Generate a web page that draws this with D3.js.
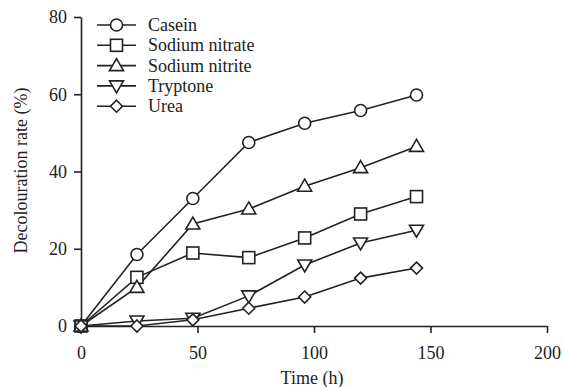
<!DOCTYPE html>
<html>
<head>
<meta charset="utf-8">
<script src="https://cdn.jsdelivr.net/npm/d3@7"></script>
<style>
  body { margin: 0; background: #fff; }
  text { font-family: "Liberation Serif", "Times New Roman", serif; fill: #222; }
</style>
</head>
<body>
<div id="chart"></div>
<script>
// data
var times = [0, 24, 48, 72, 96, 120, 144];
var seriesNames = ["Casein", "Sodium nitrate", "Sodium nitrite", "Tryptone", "Urea"];
var casein = [0, 18.5, 33, 47.5, 52.5, 55.8, 59.8];
var sodiumNitrate = [0, 12.6, 18.9, 17.7, 22.8, 29, 33.5];
var sodiumNitrite = [0, 10, 26.4, 30.3, 36.2, 41, 46.5];
var tryptone = [0, 1.3, 2, 7.8, 15.8, 21.5, 24.8];
var urea = [0, 0, 1.6, 4.6, 7.5, 12.4, 15];
var xTicks = [0, 50, 100, 150, 200];
var yTicks = [0, 20, 40, 60, 80];

var allSeries = [casein, sodiumNitrate, sodiumNitrite, tryptone, urea];
var symbols = ["circle", "square", "triangle", "triangleDown", "diamond"];

var svgWidth = 563, svgHeight = 387;
var margin = { top: 17, right: 16, bottom: 61, left: 81 };
var width = svgWidth - margin.left - margin.right;
var height = svgHeight - margin.top - margin.bottom;
var fontFam = "'Liberation Serif', 'Times New Roman', serif";

var svg = d3.select("#chart").append("svg")
  .attr("width", svgWidth)
  .attr("height", svgHeight);

var chartGroup = svg.append("g")
  .attr("transform", `translate(${margin.left}, ${margin.top})`);

var x = d3.scaleLinear().domain([0, 200]).range([0, width]);
var y = d3.scaleLinear().domain([0, 80]).range([height, 0]);

// axes
var xAxis = chartGroup.append("g")
  .attr("transform", `translate(0, ${height})`)
  .call(d3.axisBottom(x).tickValues(xTicks).tickSize(7).tickPadding(13).tickSizeOuter(0));
var yAxis = chartGroup.append("g")
  .call(d3.axisLeft(y).tickValues(yTicks).tickSize(7).tickPadding(7).tickSizeOuter(0));

[xAxis, yAxis].forEach(function(a) {
  a.attr("font-family", null);
  a.select(".domain").attr("stroke", "#222").attr("stroke-width", 1.6);
  a.selectAll(".tick line").attr("stroke", "#222").attr("stroke-width", 1.6);
  a.selectAll(".tick text").attr("font-size", "18px").attr("fill", "#222")
    .style("font-family", fontFam);
});

// axis titles
chartGroup.append("text")
  .attr("x", width / 2 - 2)
  .attr("y", height + 58)
  .attr("text-anchor", "middle")
  .attr("font-size", "18px")
  .style("font-family", fontFam)
  .text("Time (h)");

chartGroup.append("text")
  .attr("transform", "rotate(-90)")
  .attr("x", -height / 2 + 1)
  .attr("y", -54)
  .attr("text-anchor", "middle")
  .attr("font-size", "18px")
  .style("font-family", fontFam)
  .text("Decolouration rate (%)");

// marker drawing
function drawMarker(g, type, cx, cy) {
  var s = 6;
  if (type === "circle") {
    g.append("circle").attr("cx", cx).attr("cy", cy).attr("r", s);
  } else if (type === "square") {
    g.append("rect").attr("x", cx - s).attr("y", cy - s).attr("width", 2 * s).attr("height", 2 * s);
  } else if (type === "triangle") {
    g.append("path").attr("d", `M${cx},${cy - s - 1}L${cx + s + 1},${cy + s - 1}L${cx - s - 1},${cy + s - 1}Z`);
  } else if (type === "triangleDown") {
    g.append("path").attr("d", `M${cx},${cy + s + 1}L${cx + s + 1},${cy - s + 1}L${cx - s - 1},${cy - s + 1}Z`);
  } else if (type === "diamond") {
    g.append("path").attr("d", `M${cx},${cy - s}L${cx + s},${cy}L${cx},${cy + s}L${cx - s},${cy}Z`);
  }
}

var line = d3.line()
  .x((d, i) => x(times[i]))
  .y(d => y(d));

// lines first, then markers on top
allSeries.forEach(function(vals) {
  chartGroup.append("path")
    .attr("d", line(vals))
    .attr("fill", "none")
    .attr("stroke", "#222")
    .attr("stroke-width", 1.6);
});

allSeries.forEach(function(vals, k) {
  var g = chartGroup.append("g")
    .attr("fill", "#fff")
    .attr("stroke", "#222")
    .attr("stroke-width", 1.6);
  vals.forEach(function(v, i) {
    drawMarker(g, symbols[k], x(times[i]), y(v));
  });
});

// legend
var legend = svg.append("g").attr("transform", "translate(97, 25)");
seriesNames.forEach(function(name, k) {
  var row = legend.append("g").attr("transform", `translate(0, ${k * 20.3})`);
  row.append("line")
    .attr("x1", 0).attr("x2", 39)
    .attr("y1", 0).attr("y2", 0)
    .attr("stroke", "#222").attr("stroke-width", 1.6);
  var g = row.append("g").attr("fill", "#fff").attr("stroke", "#222").attr("stroke-width", 1.6);
  drawMarker(g, symbols[k], 19.5, 0);
  row.append("text")
    .attr("x", 51)
    .attr("y", 6)
    .attr("font-size", "18px")
    .style("font-family", fontFam)
    .text(name);
});
</script>
</body>
</html>
